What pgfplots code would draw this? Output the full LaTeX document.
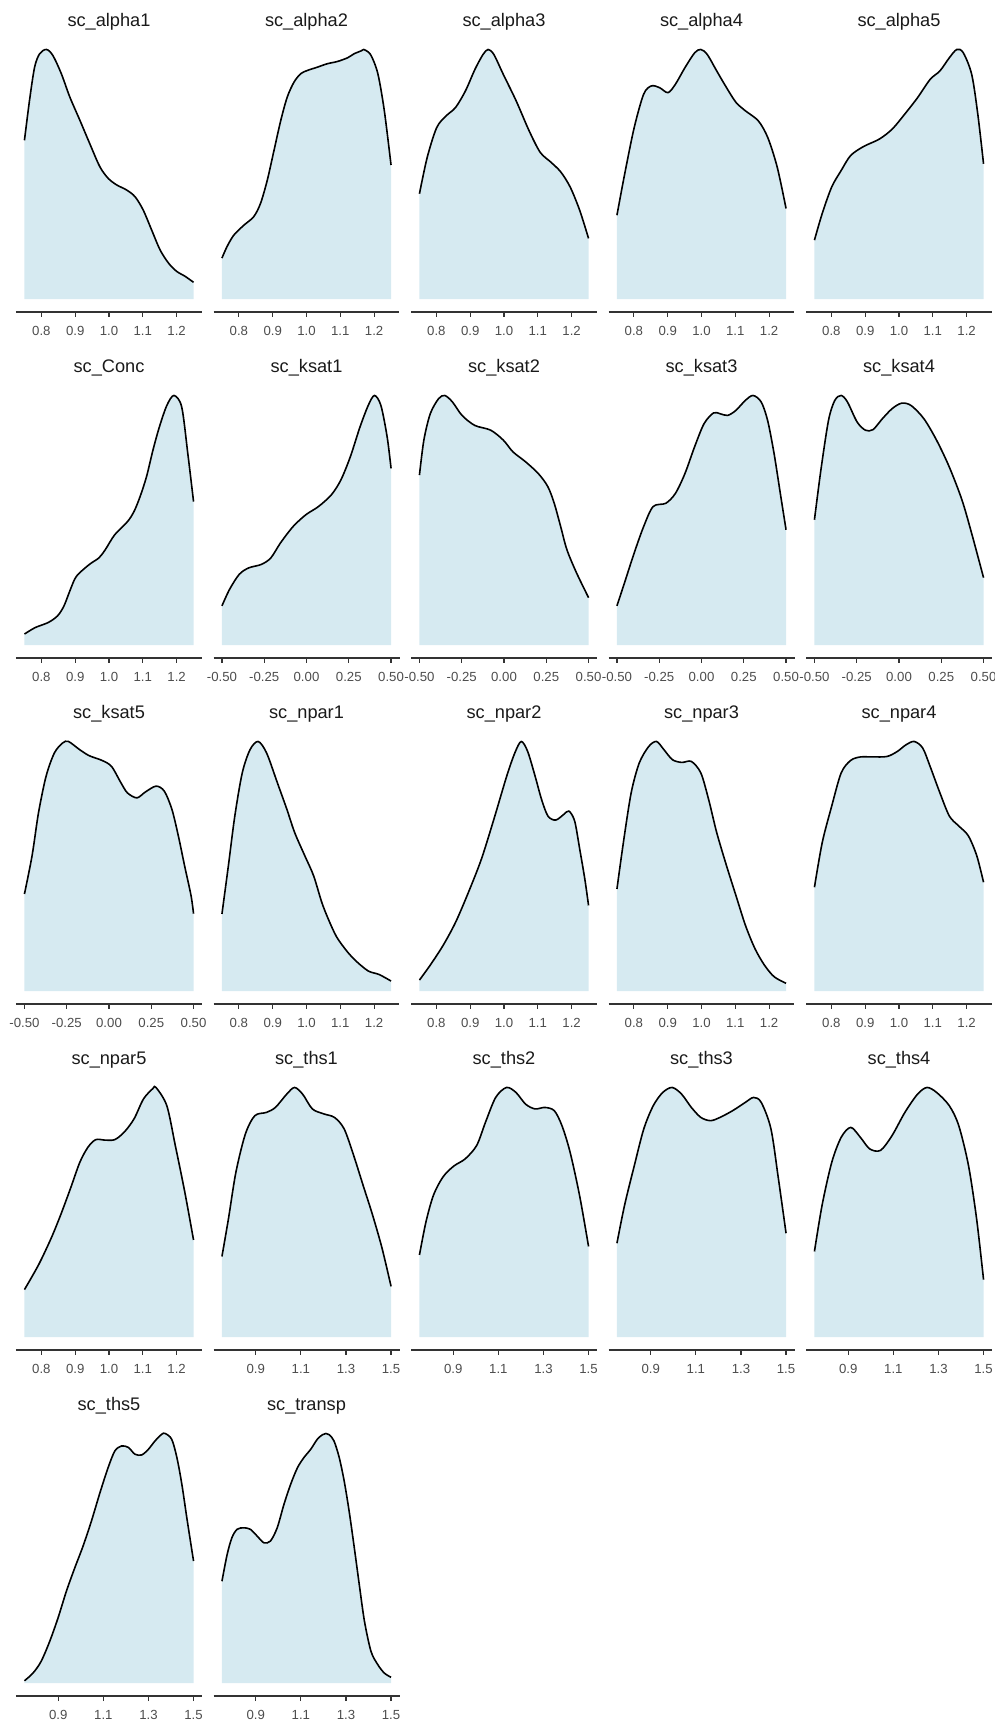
\documentclass[border=0pt]{standalone}
\usepackage{fontspec}
\setmainfont{Liberation Sans}
\usepackage{pgfplots}
\usepackage{pgfplotstable}
\pgfplotsset{compat=1.18}
\definecolor{fillc}{RGB}{214,234,241}
\definecolor{axc}{RGB}{51,51,51}
\definecolor{tickc}{RGB}{77,77,77}
\definecolor{titc}{RGB}{26,26,26}

\pgfplotstableread{
x y
0.750 0.636
0.765 0.796
0.780 0.929
0.795 0.983
0.815 1.000
0.834 0.976
0.859 0.903
0.884 0.810
0.914 0.716
0.943 0.623
0.973 0.530
0.998 0.483
1.023 0.457
1.052 0.437
1.077 0.410
1.101 0.357
1.126 0.277
1.151 0.197
1.176 0.144
1.200 0.111
1.225 0.091
1.250 0.067
}\tAlphaA
\pgfplotstableread{
x y
0.750 0.164
0.765 0.210
0.785 0.256
0.815 0.296
0.844 0.330
0.864 0.383
0.884 0.476
0.904 0.596
0.924 0.716
0.943 0.809
0.963 0.869
0.983 0.903
1.003 0.916
1.032 0.929
1.062 0.943
1.092 0.952
1.122 0.967
1.141 0.983
1.161 0.994
1.169 1.000
1.176 0.996
1.191 0.976
1.211 0.903
1.230 0.756
1.250 0.537
}\tAlphaB
\pgfplotstableread{
x y
0.750 0.422
0.773 0.568
0.801 0.687
0.829 0.734
0.857 0.768
0.886 0.834
0.914 0.920
0.938 0.980
0.953 1.000
0.970 0.980
0.998 0.900
1.036 0.794
1.074 0.675
1.107 0.588
1.139 0.548
1.168 0.509
1.196 0.448
1.224 0.355
1.250 0.243
}\tAlphaC
\pgfplotstableread{
x y
0.750 0.336
0.773 0.502
0.801 0.687
0.829 0.821
0.852 0.854
0.876 0.847
0.901 0.827
0.923 0.861
0.951 0.927
0.980 0.987
0.998 1.000
1.017 0.980
1.045 0.914
1.074 0.847
1.102 0.788
1.130 0.754
1.168 0.714
1.196 0.647
1.224 0.528
1.250 0.363
}\tAlphaD
\pgfplotstableread{
x y
0.750 0.236
0.773 0.343
0.801 0.449
0.829 0.515
0.857 0.575
0.895 0.611
0.942 0.641
0.980 0.681
1.017 0.741
1.055 0.807
1.092 0.880
1.121 0.914
1.149 0.967
1.171 1.000
1.190 0.987
1.215 0.900
1.233 0.741
1.250 0.542
}\tAlphaE
\pgfplotstableread{
x y
0.750 0.044
0.782 0.070
0.820 0.090
0.848 0.117
0.867 0.157
0.886 0.223
0.904 0.276
0.942 0.323
0.970 0.349
0.989 0.382
1.017 0.442
1.055 0.495
1.074 0.535
1.092 0.595
1.111 0.675
1.130 0.781
1.149 0.874
1.171 0.960
1.192 1.000
1.215 0.954
1.233 0.768
1.250 0.575
}\tConc
\pgfplotstableread{
x y
-0.500 0.157
-0.455 0.223
-0.398 0.283
-0.342 0.309
-0.267 0.323
-0.211 0.349
-0.154 0.409
-0.079 0.475
-0.004 0.522
0.071 0.555
0.147 0.602
0.203 0.661
0.259 0.754
0.316 0.873
0.365 0.960
0.402 1.000
0.440 0.960
0.477 0.834
0.500 0.708
}\tKsatA
\pgfplotstableread{
x y
-0.500 0.681
-0.474 0.821
-0.436 0.927
-0.387 0.987
-0.350 1.000
-0.305 0.974
-0.248 0.920
-0.173 0.880
-0.079 0.861
-0.004 0.821
0.053 0.774
0.128 0.734
0.203 0.687
0.259 0.635
0.297 0.568
0.335 0.475
0.372 0.382
0.429 0.289
0.500 0.190
}\tKsatB
\pgfplotstableread{
x y
-0.500 0.157
-0.455 0.250
-0.398 0.369
-0.342 0.475
-0.286 0.555
-0.211 0.568
-0.154 0.608
-0.098 0.687
-0.041 0.794
0.015 0.887
0.071 0.930
0.109 0.927
0.154 0.920
0.203 0.940
0.259 0.980
0.305 1.000
0.353 0.974
0.391 0.900
0.429 0.768
0.466 0.608
0.500 0.462
}\tKsatC
\pgfplotstableread{
x y
-0.500 0.502
-0.462 0.701
-0.417 0.900
-0.380 0.980
-0.342 1.000
-0.305 0.974
-0.248 0.894
-0.199 0.861
-0.154 0.863
-0.098 0.907
-0.041 0.947
0.015 0.969
0.071 0.960
0.147 0.907
0.222 0.821
0.297 0.714
0.372 0.582
0.429 0.449
0.500 0.270
}\tKsatD
\pgfplotstableread{
x y
-0.500 0.389
-0.455 0.542
-0.417 0.714
-0.372 0.861
-0.323 0.954
-0.274 0.994
-0.240 1.000
-0.173 0.967
-0.117 0.943
-0.041 0.924
0.015 0.900
0.071 0.834
0.109 0.794
0.165 0.774
0.214 0.797
0.278 0.821
0.327 0.801
0.372 0.728
0.410 0.622
0.447 0.502
0.485 0.383
0.500 0.310
}\tKsatE
\pgfplotstableread{
x y
0.750 0.309
0.769 0.502
0.788 0.701
0.810 0.874
0.833 0.967
0.857 1.000
0.882 0.954
0.914 0.834
0.942 0.728
0.965 0.635
0.995 0.542
1.021 0.462
1.045 0.356
1.064 0.290
1.089 0.217
1.121 0.157
1.149 0.117
1.183 0.080
1.215 0.066
1.250 0.040
}\tNparA
\pgfplotstableread{
x y
0.750 0.044
0.782 0.104
0.820 0.183
0.857 0.276
0.895 0.396
0.933 0.528
0.970 0.688
1.008 0.861
1.032 0.954
1.051 1.000
1.070 0.960
1.092 0.861
1.111 0.768
1.130 0.701
1.153 0.685
1.177 0.708
1.192 0.721
1.209 0.681
1.224 0.568
1.239 0.449
1.250 0.343
}\tNparB
\pgfplotstableread{
x y
0.750 0.409
0.769 0.595
0.792 0.794
0.816 0.914
0.844 0.980
0.867 1.000
0.889 0.967
0.914 0.927
0.942 0.916
0.970 0.920
0.998 0.874
1.021 0.768
1.045 0.635
1.074 0.502
1.102 0.382
1.130 0.263
1.158 0.170
1.186 0.104
1.215 0.057
1.250 0.031
}\tNparC
\pgfplotstableread{
x y
0.750 0.416
0.773 0.595
0.801 0.741
0.829 0.874
0.857 0.924
0.886 0.938
0.923 0.938
0.965 0.940
0.995 0.960
1.021 0.987
1.045 1.000
1.070 0.974
1.092 0.900
1.121 0.794
1.149 0.701
1.177 0.661
1.205 0.622
1.230 0.542
1.250 0.436
}\tNparD
\pgfplotstableread{
x y
0.750 0.190
0.792 0.290
0.829 0.396
0.857 0.489
0.886 0.595
0.914 0.701
0.938 0.761
0.961 0.791
0.989 0.789
1.017 0.791
1.045 0.821
1.074 0.874
1.102 0.954
1.130 0.996
1.139 1.000
1.171 0.927
1.196 0.768
1.224 0.582
1.250 0.389
}\tNparE
\pgfplotstableread{
x y
0.750 0.323
0.779 0.475
0.812 0.661
0.854 0.814
0.896 0.887
0.947 0.900
0.987 0.920
1.037 0.973
1.072 1.000
1.108 0.973
1.151 0.914
1.202 0.894
1.249 0.880
1.292 0.834
1.334 0.728
1.376 0.608
1.418 0.489
1.460 0.356
1.500 0.203
}\tThsA
\pgfplotstableread{
x y
0.750 0.329
0.779 0.462
0.812 0.568
0.854 0.641
0.902 0.685
0.953 0.714
1.004 0.768
1.043 0.861
1.088 0.960
1.136 1.000
1.178 0.980
1.221 0.933
1.263 0.914
1.306 0.920
1.348 0.907
1.382 0.847
1.418 0.741
1.460 0.568
1.500 0.363
}\tThsB
\pgfplotstableread{
x y
0.750 0.376
0.784 0.529
0.827 0.687
0.869 0.834
0.911 0.927
0.953 0.980
0.995 1.000
1.037 0.973
1.080 0.920
1.122 0.880
1.165 0.867
1.207 0.880
1.263 0.907
1.319 0.940
1.356 0.960
1.390 0.940
1.433 0.834
1.466 0.635
1.500 0.416
}\tThsC
\pgfplotstableread{
x y
0.750 0.343
0.784 0.529
0.827 0.701
0.869 0.801
0.911 0.840
0.953 0.801
0.995 0.754
1.043 0.748
1.094 0.807
1.151 0.900
1.207 0.973
1.249 1.000
1.292 0.980
1.348 0.927
1.390 0.847
1.433 0.688
1.469 0.475
1.500 0.230
}\tThsD
\pgfplotstableread{
x y
0.750 0.009
0.788 0.040
0.824 0.087
0.862 0.167
0.899 0.261
0.936 0.368
0.973 0.461
1.010 0.549
1.047 0.649
1.085 0.763
1.121 0.863
1.151 0.930
1.181 0.950
1.211 0.944
1.240 0.917
1.270 0.914
1.300 0.937
1.329 0.970
1.359 0.997
1.374 1.000
1.403 0.977
1.426 0.904
1.448 0.797
1.470 0.663
1.493 0.529
1.500 0.489
}\tThsE
\pgfplotstableread{
x y
0.750 0.408
0.773 0.515
0.794 0.582
0.817 0.616
0.847 0.622
0.876 0.616
0.906 0.589
0.936 0.562
0.965 0.569
0.995 0.622
1.025 0.716
1.055 0.797
1.085 0.863
1.114 0.904
1.144 0.937
1.173 0.977
1.196 0.995
1.211 1.000
1.226 0.995
1.247 0.970
1.270 0.904
1.292 0.810
1.314 0.689
1.337 0.542
1.359 0.395
1.382 0.248
1.411 0.127
1.441 0.074
1.470 0.040
1.500 0.023
}\tTransp

\pgfplotsset{
  dens/.style={
    scale only axis, width=93pt, height=137.5pt, anchor=south west,
    ymin=-0.052, ymax=1.05,
    axis y line=none, axis x line*=bottom,
    x axis line style={axc, line width=0.6pt},
    major tick length=2.5pt, tick align=outside,
    tick style={axc, line width=0.6pt},
    minor tick num=0,
    every axis title shift=0pt,
    xticklabel style={font=\fontsize{6.6pt}{8pt}\selectfont, text=tickc, anchor=base, yshift=-9.3pt, inner sep=0pt},
    title style={font=\fontsize{9.1pt}{11pt}\selectfont, text=titc, anchor=base, at={(0.5,1)}, yshift=5pt, inner sep=0pt},
  },
  ta/.style={xmin=0.725, xmax=1.275, xtick={0.8,0.9,1.0,1.1,1.2}, xticklabels={0.8,0.9,1.0,1.1,1.2}},
  tk/.style={xmin=-0.55, xmax=0.55, xtick={-0.5,-0.25,0,0.25,0.5}, xticklabels={-0.50,-0.25,0.00,0.25,0.50}},
  tt/.style={xmin=0.7125, xmax=1.5375, xtick={0.9,1.1,1.3,1.5}, xticklabels={0.9,1.1,1.3,1.5}},
}

\newcommand{\panel}[5]{%
  \begin{axis}[dens, #4, at={({(8+98.75*#1)*1pt},{(704.5-173*#2)*1pt})}, title={#3}]
    \addplot[fill=fillc, draw=none, smooth] table {#5} \closedcycle;
    \addplot[black, line width=0.8pt, smooth] table {#5};
  \end{axis}}

\begin{document}
\begin{tikzpicture}
\path[use as bounding box] (0,0) rectangle (497.5pt,860.5pt);
\panel{0}{0}{sc\_alpha1}{ta}{\tAlphaA}
\panel{1}{0}{sc\_alpha2}{ta}{\tAlphaB}
\panel{2}{0}{sc\_alpha3}{ta}{\tAlphaC}
\panel{3}{0}{sc\_alpha4}{ta}{\tAlphaD}
\panel{4}{0}{sc\_alpha5}{ta}{\tAlphaE}
\panel{0}{1}{sc\_Conc}{ta}{\tConc}
\panel{1}{1}{sc\_ksat1}{tk}{\tKsatA}
\panel{2}{1}{sc\_ksat2}{tk}{\tKsatB}
\panel{3}{1}{sc\_ksat3}{tk}{\tKsatC}
\panel{4}{1}{sc\_ksat4}{tk}{\tKsatD}
\panel{0}{2}{sc\_ksat5}{tk}{\tKsatE}
\panel{1}{2}{sc\_npar1}{ta}{\tNparA}
\panel{2}{2}{sc\_npar2}{ta}{\tNparB}
\panel{3}{2}{sc\_npar3}{ta}{\tNparC}
\panel{4}{2}{sc\_npar4}{ta}{\tNparD}
\panel{0}{3}{sc\_npar5}{ta}{\tNparE}
\panel{1}{3}{sc\_ths1}{tt}{\tThsA}
\panel{2}{3}{sc\_ths2}{tt}{\tThsB}
\panel{3}{3}{sc\_ths3}{tt}{\tThsC}
\panel{4}{3}{sc\_ths4}{tt}{\tThsD}
\panel{0}{4}{sc\_ths5}{tt}{\tThsE}
\panel{1}{4}{sc\_transp}{tt}{\tTransp}
\end{tikzpicture}
\end{document}
